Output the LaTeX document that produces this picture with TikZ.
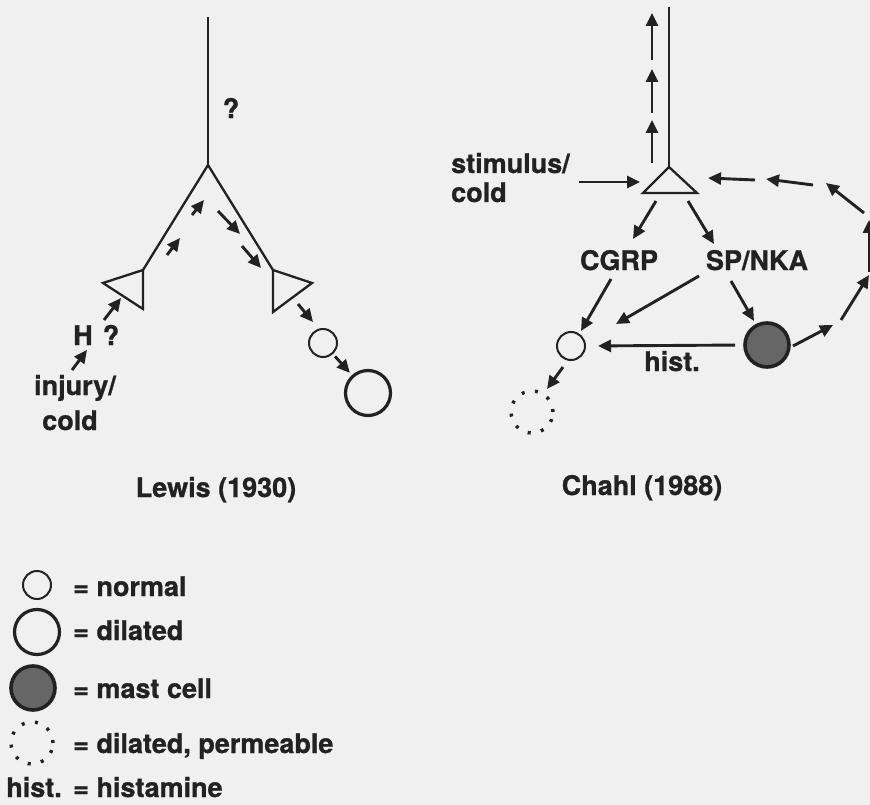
\documentclass[tikz,border=0pt]{standalone}
\usepackage{fontspec}
\setmainfont{TeX Gyre Heros}[BoldFeatures={FakeBold=0.9}]
\usetikzlibrary{arrows.meta}
\definecolor{bgc}{HTML}{F0F0F0}
\definecolor{ink}{HTML}{222222}
\begin{document}
\begin{tikzpicture}[x=1pt,y=-1pt,
  nerve/.style={line width=2.3pt, draw=ink, line join=miter},
  arr/.style={line width=2.9pt, draw=ink, -{Triangle[length=13pt,width=12pt]}},
  lbl/.style={font=\bfseries\fontsize{27}{30}\selectfont, text=ink, inner sep=0pt},
  vessel/.style={circle, draw=ink, line width=2pt, minimum size=28pt, inner sep=0pt},
  dilated/.style={circle, draw=ink, line width=3.2pt, minimum size=45pt, inner sep=0pt},
  mast/.style={circle, draw=ink, line width=3.6pt, fill=black!60, minimum size=44pt, inner sep=0pt},
  leaky/.style={circle, draw=ink, line width=3.4pt, dash pattern=on 3pt off 10.5pt, minimum size=42pt, inner sep=0pt}]
\fill[bgc] (0,0) rectangle (870,805);
\useasboundingbox (0,0) rectangle (870,805);

% ---------------- Lewis (1930) ----------------
\coordinate (Ltop) at (208,17);
\coordinate (Lfork) at (208,165);
\coordinate (Ltl) at (143,270);
\coordinate (Ltr) at (273,270);
\draw[nerve] (Ltop) -- (Lfork);
\draw[nerve] (Ltl) -- (Lfork) -- (Ltr);
\draw[nerve] (Ltl) -- (143,309) -- (103,283) -- cycle;
\draw[nerve] (Ltr) -- (273,312) -- (312,283) -- cycle;
\node[lbl] (Lq) at (231,108) {?};

\coordinate (La1s) at (167,255); \coordinate (La1e) at (180,238);
\coordinate (La2s) at (192,215); \coordinate (La2e) at (204,200);
\draw[arr] (La1s) -- (La1e);
\draw[arr] (La2s) -- (La2e);
\coordinate (La3s) at (218,211); \coordinate (La3e) at (240,234);
\coordinate (La4s) at (242,246); \coordinate (La4e) at (261,268);
\draw[arr] (La3s) -- (La3e);
\draw[arr] (La4s) -- (La4e);

\node[lbl, anchor=base] (LH) at (83,345) {H};
\node[lbl, anchor=base] (LHq) at (111,345) {?};
\node[lbl, anchor=base] (Linj) at (75,395) {injury/};
\node[lbl, anchor=base] (Lcold) at (70,430) {cold};
\coordinate (La5s) at (104,320); \coordinate (La5e) at (121,298);
\draw[arr] (La5s) -- (La5e);
\coordinate (La6s) at (72,370); \coordinate (La6e) at (87,350);
\draw[arr] (La6s) -- (La6e);

\node[vessel] (Lv1) at (323,343) {};
\node[dilated] (Lv2) at (368,393) {};
\coordinate (La7s) at (298,304); \coordinate (La7e) at (313,322);
\draw[arr] (La7s) -- (La7e);
\draw[arr, shorten <=3pt, shorten >=3pt] (Lv1) -- (Lv2);

\node[lbl, anchor=base] (Lcap) at (216,497) {Lewis (1930)};

% ---------------- Chahl (1988) ----------------
\coordinate (Ctop) at (669,7);
\coordinate (Capex) at (669,167);
\draw[nerve] (Ctop) -- (Capex);
\draw[nerve] (Capex) -- (643,193) -- (697,193) -- cycle;

\coordinate (Cu1s) at (652,163); \coordinate (Cu1e) at (652,120);
\coordinate (Cu2s) at (652,113); \coordinate (Cu2e) at (652,69);
\coordinate (Cu3s) at (652,60);  \coordinate (Cu3e) at (652,13);
\draw[arr] (Cu1s) -- (Cu1e);
\draw[arr] (Cu2s) -- (Cu2e);
\draw[arr] (Cu3s) -- (Cu3e);

\node[lbl, anchor=base west] (Cstim) at (451,173) {stimulus/};
\node[lbl, anchor=base west] (Ccold) at (451,202) {cold};
\coordinate (Csa) at (579,182); \coordinate (Csb) at (640,182);
\draw[arr] (Csa) -- (Csb);

\node[lbl, anchor=base] (CGRP) at (619,270) {CGRP};
\node[lbl, anchor=base] (SP) at (757,270) {SP/NKA};
\coordinate (Cd1s) at (656,201); \coordinate (Cd1e) at (633,239);
\coordinate (Cd2s) at (688,201); \coordinate (Cd2e) at (714,244);
\draw[arr] (Cd1s) -- (Cd1e);
\draw[arr] (Cd2s) -- (Cd2e);

\node[vessel] (Cv) at (571,346) {};
\node[mast] (Cm) at (767,345) {};
\node[leaky] (Cl) at (532,412) {};

\coordinate (Cg1s) at (611,279); \coordinate (Cg1e) at (581,331);
\draw[arr] (Cg1s) -- (Cg1e);
\coordinate (Cs1s) at (699,276); \coordinate (Cs1e) at (616,324);
\draw[arr] (Cs1s) -- (Cs1e);
\coordinate (Cs2s) at (731,281); \coordinate (Cs2e) at (754,321);
\draw[arr] (Cs2s) -- (Cs2e);

\draw[arr, shorten <=8pt, shorten >=12pt] (Cm.west) -- (Cv.east);
\node[lbl, anchor=base] (Chist) at (672,371) {hist.};
\coordinate (Cvls) at (563,367); \coordinate (Cvle) at (547,389);
\draw[arr] (Cvls) -- (Cvle);

% feedback loop from mast cell back to terminal
\coordinate (Cf1s) at (793,346); \coordinate (Cf1e) at (833,325);
\coordinate (Cf2s) at (841,320); \coordinate (Cf2e) at (869,275);
\coordinate (Cf3s) at (869,272); \coordinate (Cf3e) at (869,220);
\coordinate (Cf4s) at (864,213); \coordinate (Cf4e) at (826,183);
\coordinate (Cf5s) at (813,185); \coordinate (Cf5e) at (766,179);
\coordinate (Cf6s) at (755,180); \coordinate (Cf6e) at (708,178);
\draw[arr] (Cf1s) -- (Cf1e);
\draw[arr] (Cf2s) -- (Cf2e);
\draw[arr] (Cf3s) -- (Cf3e);
\draw[arr] (Cf4s) -- (Cf4e);
\draw[arr] (Cf5s) -- (Cf5e);
\draw[arr] (Cf6s) -- (Cf6e);

\node[lbl, anchor=base] (Ccap) at (642,495) {Chahl (1988)};

% ---------------- legend ----------------
\node[vessel] (Kn) at (37,585) {};
\node[dilated] (Kd) at (37,632) {};
\node[mast] (Km) at (33,688) {};
\node[leaky] (Kp) at (32,743) {};
\node[lbl, anchor=base west] (Tn) at (73,596) {= normal};
\node[lbl, anchor=base west] (Td) at (73,640) {= dilated};
\node[lbl, anchor=base west] (Tm) at (73,698) {= mast cell};
\node[lbl, anchor=base west] (Tp) at (73,753) {= dilated, permeable};
\node[lbl, anchor=base east] (Th) at (62,797) {hist.};
\node[lbl, anchor=base west] (Th2) at (73,797) {= histamine};
\end{tikzpicture}
\end{document}
